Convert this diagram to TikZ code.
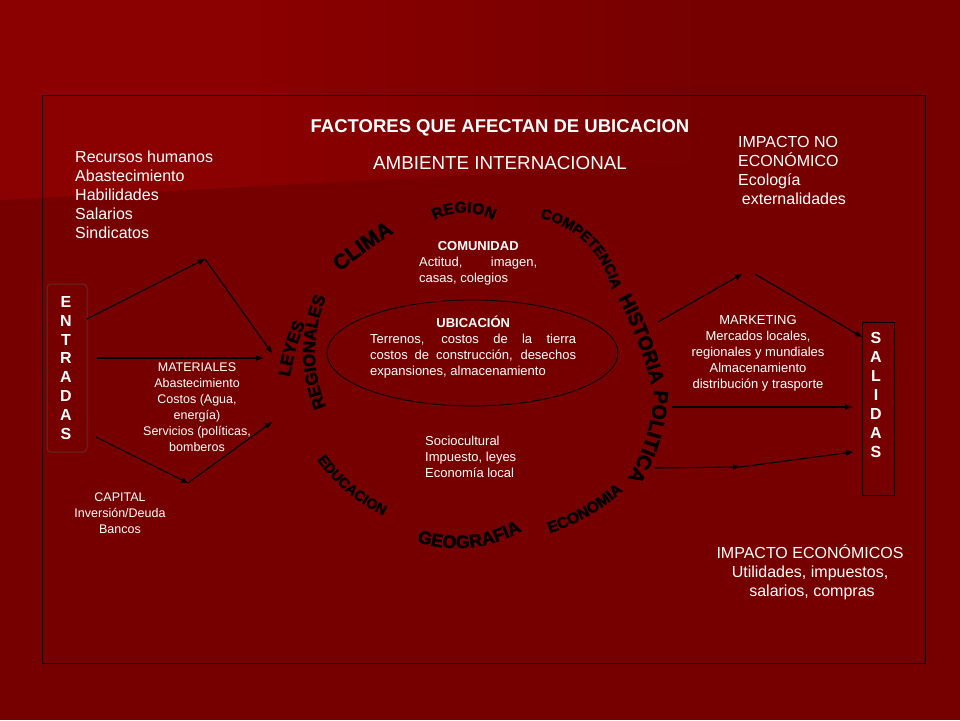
\documentclass[tikz,border=0pt]{standalone}
\usepackage{fontspec}
\setmainfont{Liberation Sans}
\newfontfamily\heavyfont{Liberation Sans}[FakeBold=2]
\usetikzlibrary{arrows.meta,calc,decorations.text}
\definecolor{bgdark}{RGB}{118,0,0}
\definecolor{bglight}{RGB}{139,0,0}
\definecolor{entb}{RGB}{95,45,45}
\newcommand\wfA{\fontsize{21}{21}\selectfont\heavyfont\bfseries}
\newcommand\wfB{\fontsize{15.5}{15.5}\selectfont\heavyfont\bfseries}
\newcommand\wfC{\fontsize{14.5}{14.5}\selectfont\heavyfont\bfseries}
\newcommand\wfD{\fontsize{19.5}{19.5}\selectfont\heavyfont\bfseries}
\newcommand\wfE{\fontsize{20}{20}\selectfont\heavyfont\bfseries}
\newcommand\wfF{\fontsize{18}{18}\selectfont\heavyfont\bfseries}
\newcommand\wfG{\fontsize{17}{17}\selectfont\heavyfont\bfseries}
% #1,#2 screen centre of letters, #3 outward normal angle, #4 radius, #5 half angle,
% #6 offset (+ tops outward, - tops inward), #7 font, #8 word
\newcommand\arcword[8]{%
  \pgfmathsetmacro\aws{(#6)>0 ? (#3)+(#5) : (#3)-(#5)}%
  \pgfmathsetmacro\awe{(#6)>0 ? (#3)-(#5) : (#3)+(#5)}%
  \pgfmathsetmacro\awo{-1*(#6)}%
  \path[decorate,decoration={text along path,text align=center,text={|#7|#8}}]
    ($(#1,-#2)+(#3:\awo)+(#3+180:#4)+(\aws:#4)$) arc[start angle=\aws,end angle=\awe,radius=#4];}
\tikzset{
  txt/.style={text=white,inner sep=0pt,font=\fontsize{13}{16}\selectfont},
  arr/.style={draw=black,line width=1.1pt,-{Triangle[length=7pt,width=5.5pt]}},
}
\begin{document}
\begin{tikzpicture}[x=1pt,y=1pt]
\useasboundingbox (0,0) rectangle (960,-720);
% background
\fill[bgdark] (0,0) rectangle (960,-720);
\fill[bglight] (0,0) -- (251,0) -- (251,-186.7) -- (0,-200) -- cycle;
\shade[left color=bglight,right color=bgdark] (250,0) -- (700,0) -- (700,-162.8) -- (250,-186.7) -- cycle;
% frame
\draw[black,line width=0.9pt] (42,-95) rectangle (925,-663);
% titles
\node[txt,font=\fontsize{18.5}{22}\selectfont\bfseries,anchor=base] (title) at (500,-132.7) {FACTORES QUE AFECTAN DE UBICACION};
\node[txt,font=\fontsize{18.8}{22}\selectfont,anchor=base] (amb) at (500,-169.5) {AMBIENTE INTERNACIONAL};
% side texts
\node[txt,font=\fontsize{16}{19}\selectfont,align=left,anchor=north west] (rec) at (75,-146) {\rule{0pt}{16pt}Recursos humanos\\Abastecimiento\\Habilidades\\Salarios\\Sindicatos};
\node[txt,font=\fontsize{16}{19}\selectfont,align=left,anchor=north west] (impno) at (738,-131.7) {\rule{0pt}{16pt}IMPACTO NO\\ECONÓMICO\\Ecología\\\hspace*{3.7pt}externalidades};
\node[txt,font=\fontsize{16}{19}\selectfont,align=center,anchor=north] (impec) at (810,-542) {\rule{0pt}{16pt}IMPACTO ECONÓMICOS\\Utilidades, impuestos,\\\hspace*{4pt}salarios, compras};
% centre texts
\node[txt,align=left,anchor=north west] (com) at (419,-237) {\rule{0pt}{13pt}\makebox[118pt]{\bfseries COMUNIDAD}\\\makebox[118pt][s]{Actitud, imagen,}\\casas, colegios};
\draw[black,line width=0.8pt] (472.5,-353) ellipse [x radius=145.5, y radius=53];
\node[txt,align=left,anchor=north west] (ubi) at (370,-314) {\rule{0pt}{13pt}\makebox[206pt]{\bfseries UBICACIÓN}\\\makebox[206pt][s]{Terrenos, costos de la tierra}\\\makebox[206pt][s]{costos de construcción, desechos}\\expansiones, almacenamiento};
\node[txt,align=left,anchor=north west] (soc) at (425,-432) {\rule{0pt}{13pt}Sociocultural\\Impuesto, leyes\\Economía local};
\node[txt,font=\fontsize{12.5}{16}\selectfont,align=center,anchor=north] (mat) at (197,-359.2) {\rule{0pt}{12.5pt}MATERIALES\\Abastecimiento\\Costos (Agua,\\energía)\\Servicios (políticas,\\bomberos};
\node[txt,font=\fontsize{12.5}{16}\selectfont,align=center,anchor=north] (cap) at (120,-489.2) {\rule{0pt}{12.5pt}CAPITAL\\Inversión/Deuda\\Bancos};
\node[txt,align=center,anchor=north] (mkt) at (758,-311) {\rule{0pt}{13pt}MARKETING\\Mercados locales,\\regionales y mundiales\\Almacenamiento\\distribución y trasporte};
% boxes
\node[draw=entb,rounded corners=4pt,line width=1pt,minimum width=40pt,minimum height=168pt,inner sep=0pt] (ent) at (67,-368) {};
\node[txt,font=\fontsize{16}{18.9}\selectfont\bfseries,align=center] (entt) at (66,-368) {E\\N\\T\\R\\A\\D\\A\\S};
\node[draw=black,line width=0.8pt,minimum width=32pt,minimum height=173pt,inner sep=0pt] (sal) at (878,-408.5) {};
\node[txt,font=\fontsize{16}{19}\selectfont\bfseries,align=center] (salt) at (876,-395) {S\\A\\L\\I\\D\\A\\S};
% arrow points
\coordinate (a1s) at (87,-319); \coordinate (a1m) at (205,-259); \coordinate (a1e) at (272,-353);
\coordinate (a2s) at (97,-358); \coordinate (a2e) at (263,-358);
\coordinate (a3s) at (96,-437); \coordinate (a3m) at (188,-483); \coordinate (a3e) at (272,-422);
\coordinate (b1s) at (658,-322); \coordinate (b1m) at (742,-274); \coordinate (b1n) at (755,-274); \coordinate (b1e) at (862,-337);
\coordinate (b2s) at (672,-407); \coordinate (b2e) at (852,-407);
\coordinate (b3s) at (655,-468); \coordinate (b3m) at (740,-467); \coordinate (b3e) at (853,-452);
\draw[arr] (a1s) -- (a1m); \draw[arr] (a1m) -- (a1e);
\draw[arr] (a2s) -- (a2e);
\draw[arr] (a3s) -- (a3m); \draw[arr] (a3m) -- (a3e);
\draw[arr] (b1s) -- (b1m); \draw[arr] (b1n) -- (b1e);
\draw[arr] (b2s) -- (b2e);
\draw[arr] (b3s) -- (b3m); \draw[arr] (b3m) -- (b3e);
% curved words
\arcword{362}{245}{126}{400}{12}{7.5}{\wfA}{CLIMA}
\arcword{464}{207}{90}{60}{50}{5.5}{\wfB}{REGION}
\arcword{590}{240}{45}{95}{45}{5}{\wfC}{COMPETENCIA}
\arcword{644}{338}{21}{400}{12}{7}{\wfD}{HISTORIA}
\arcword{653.5}{438}{-16.7}{180}{25}{7}{\wfE}{POLITICA}
\arcword{586}{511}{300}{200}{20}{-5.5}{\wfB}{ECONOMIA}
\arcword{470}{541}{276}{130}{35}{-6.5}{\wfF}{GEOGRAFIA}
\arcword{350}{488}{230}{170}{25}{-5}{\wfC}{EDUCACION}
\arcword{290}{348}{164}{200}{15}{6}{\wfG}{LEYES}
\arcword{309}{352}{180}{140}{40}{6}{\wfG}{REGIONALES}
\end{tikzpicture}
\end{document}
